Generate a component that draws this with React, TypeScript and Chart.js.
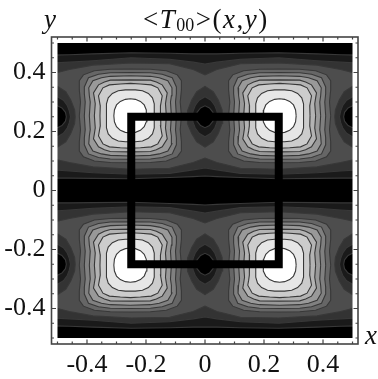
import React, { useEffect, useRef } from "react";
import { Chart, registerables } from "chart.js";

Chart.register(...registerables);

const majorTicks = [-0.4, -0.2, 0, 0.2, 0.4];
const minorTicks = [-0.5, -0.45, -0.35, -0.3, -0.25, -0.15, -0.1, -0.05, 0.05, 0.1, 0.15, 0.25, 0.3, 0.35, 0.45, 0.5];

const shades = ["#000000", "#1a1a1a", "#333333", "#4d4d4d", "#666666", "#808080", "#999999", "#b3b3b3", "#cccccc", "#e6e6e6", "#ffffff"];

// The darkest level covers the whole field.
const fieldX = [-0.52, 0.52, 0.52, -0.52, -0.52];
const fieldY = [0.52, 0.52, -0.52, -0.52, 0.52];

// Band edges for the upper half: x positions, then the outer and inner y of each band.
const bandX = [-0.52, -0.46, -0.38, -0.25, -0.12, -0.04, 0, 0.04, 0.12, 0.25, 0.38, 0.46, 0.52];
const band1Outer = [0.459, 0.46, 0.463, 0.467, 0.465, 0.463, 0.463, 0.463, 0.465, 0.467, 0.463, 0.46, 0.459];
const band1Inner = [0.042, 0.042, 0.041, 0.04, 0.044, 0.047, 0.049, 0.047, 0.044, 0.04, 0.041, 0.042, 0.042];
const band2Outer = [0.432, 0.435, 0.44, 0.45, 0.445, 0.435, 0.429, 0.435, 0.445, 0.45, 0.44, 0.435, 0.432];
const band2Inner = [0.07, 0.066, 0.06, 0.055, 0.058, 0.07, 0.076, 0.07, 0.058, 0.055, 0.06, 0.066, 0.07];
const band3Outer = [0.395, 0.41, 0.425, 0.432, 0.43, 0.41, 0.392, 0.41, 0.43, 0.432, 0.425, 0.41, 0.395];
const band3Inner = [0.108, 0.095, 0.08, 0.072, 0.075, 0.095, 0.11, 0.095, 0.075, 0.072, 0.08, 0.095, 0.108];

// Dark pockets between the lobes: one quadrant as offsets from the pocket centre.
const pocketCentresX = [-0.5, 0, 0.5];
const pocketCentresY = [0.25, -0.25];
const pocket2: number[][] = [[0.06, 0], [0.058, 0.023], [0.045, 0.057], [0.028, 0.085], [0, 0.103]];
const pocket1: number[][] = [[0.044, 0], [0.04, 0.02], [0.033, 0.038], [0.02, 0.056], [0, 0.068]];
const pocket0: number[][] = [[0.03, 0], [0.027, 0.015], [0.015, 0.03], [0, 0.037]];

// Bright lobes: one quadrant of each closed contour as offsets from the lobe centre.
const lobeCentresX = [-0.253, 0.253];
const lobeCentresY = [0.253, -0.253];
const lobe4: number[][] = [[0.173, 0], [0.169, 0.047], [0.173, 0.088], [0.173, 0.119], [0.159, 0.139], [0.122, 0.153], [0.068, 0.158], [0, 0.159]];
const lobe5: number[][] = [[0.156, 0], [0.153, 0.047], [0.156, 0.075], [0.156, 0.098], [0.142, 0.129], [0.108, 0.141], [0.068, 0.146], [0, 0.147]];
const lobe6: number[][] = [[0.139, 0], [0.136, 0.047], [0.139, 0.068], [0.141, 0.095], [0.127, 0.119], [0.098, 0.129], [0.068, 0.134], [0, 0.136]];
const lobe7: number[][] = [[0.122, 0], [0.119, 0.041], [0.122, 0.061], [0.125, 0.078], [0.108, 0.105], [0.088, 0.115], [0.068, 0.121], [0, 0.122]];
const lobe8: number[][] = [[0.103, 0], [0.102, 0.034], [0.105, 0.051], [0.108, 0.068], [0.093, 0.095], [0.071, 0.105], [0.034, 0.108], [0, 0.11]];
const lobe9: number[][] = [[0.081, 0], [0.081, 0.02], [0.081, 0.041], [0.075, 0.061], [0.061, 0.076], [0.041, 0.085], [0.017, 0.088], [0, 0.088]];
const lobe10: number[][] = [[0.056, 0], [0.054, 0.02], [0.047, 0.037], [0.034, 0.049], [0.017, 0.056], [0, 0.058]];

const squareX = [-0.25, 0.25, 0.25, -0.25, -0.25];
const squareY = [0.25, 0.25, -0.25, -0.25, 0.25];

type P = { x: number; y: number };

const closedShape = (q: number[][], cx: number, cy: number): P[] => {
  const a = q.map(([x, y]) => ({ x: cx + x, y: cy + y }));
  const b = [...q].reverse().map(([x, y]) => ({ x: cx - x, y: cy + y }));
  const c = q.map(([x, y]) => ({ x: cx - x, y: cy - y }));
  const d = [...q].reverse().map(([x, y]) => ({ x: cx + x, y: cy - y }));
  const all = [...a, ...b, ...c, ...d];
  return [...all, all[0]];
};

const bandShape = (outer: number[], inner: number[], sign: number): P[] => {
  const top = bandX.map((x, i) => ({ x, y: sign * outer[i] }));
  const bottom = bandX.map((x, i) => ({ x, y: sign * inner[i] })).reverse();
  const all = [...top, ...bottom];
  return [...all, all[0]];
};

const paintOrder = (): { data: P[]; shade: string }[] => {
  const out: { data: P[]; shade: string }[] = [];
  const add = (data: P[], shade: string) => out.push({ data, shade });
  add(fieldX.map((x, i) => ({ x, y: fieldY[i] })), shades[0]);
  [1, -1].forEach((s) => {
    add(bandShape(band1Outer, band1Inner, s), shades[1]);
    add(bandShape(band2Outer, band2Inner, s), shades[2]);
    add(bandShape(band3Outer, band3Inner, s), shades[3]);
  });
  ([[pocket2, 2], [pocket1, 1], [pocket0, 0]] as [number[][], number][]).forEach(([q, level]) => {
    pocketCentresX.forEach((cx) => pocketCentresY.forEach((cy) => add(closedShape(q, cx, cy), shades[level])));
  });
  ([[lobe4, 4], [lobe5, 5], [lobe6, 6], [lobe7, 7], [lobe8, 8], [lobe9, 9], [lobe10, 10]] as [number[][], number][]).forEach(([q, level]) => {
    lobeCentresX.forEach((cx) => lobeCentresY.forEach((cy) => add(closedShape(q, cx, cy), shades[level])));
  });
  return out;
};

const serif = '"Liberation Serif"';

const framePlugin = {
  id: "frame",
  afterDatasetsDraw(chart: any) {
    const { ctx, chartArea: a, scales } = chart;
    const x = scales.x;
    const y = scales.y;
    const il = x.getPixelForValue(-0.5);
    const ir = x.getPixelForValue(0.5);
    const it = y.getPixelForValue(0.5);
    const ib = y.getPixelForValue(-0.5);
    ctx.save();
    ctx.fillStyle = "#ffffff";
    ctx.fillRect(a.left, a.top, il - a.left, a.bottom - a.top);
    ctx.fillRect(ir, a.top, a.right - ir, a.bottom - a.top);
    ctx.fillRect(a.left, a.top, a.right - a.left, it - a.top);
    ctx.fillRect(a.left, ib, a.right - a.left, a.bottom - ib);
    ctx.strokeStyle = "#444444";
    ctx.lineWidth = 1.6;
    ctx.strokeRect(a.left, a.top, a.right - a.left, a.bottom - a.top);
    ctx.lineWidth = 1.2;
    const mark = (v: number, len: number) => {
      const px = x.getPixelForValue(v);
      const py = y.getPixelForValue(v);
      ctx.beginPath();
      ctx.moveTo(px, a.top);
      ctx.lineTo(px, a.top + len);
      ctx.moveTo(px, a.bottom);
      ctx.lineTo(px, a.bottom - len);
      ctx.moveTo(a.left, py);
      ctx.lineTo(a.left + len, py);
      ctx.moveTo(a.right, py);
      ctx.lineTo(a.right - len, py);
      ctx.stroke();
    };
    majorTicks.forEach((v) => mark(v, 4.5));
    minorTicks.forEach((v) => mark(v, 2.5));

    ctx.fillStyle = "#111111";
    ctx.textBaseline = "alphabetic";
    ctx.textAlign = "left";
    const parts: [string, string, number][] = [
      ["<", `27px ${serif}`, 28],
      ["T", `italic 27px ${serif}`, 28],
      ["00", `18px ${serif}`, 31],
      [">", `27px ${serif}`, 28],
      ["(", `27px ${serif}`, 28],
      ["x", `italic 27px ${serif}`, 28],
      [",", `27px ${serif}`, 28],
      ["y", `italic 27px ${serif}`, 28],
      [")", `27px ${serif}`, 28],
    ];
    let cursor = 143;
    parts.forEach(([t, f, base]) => {
      ctx.font = f;
      ctx.fillText(t, cursor, base);
      cursor += ctx.measureText(t).width + 1.5;
    });
    ctx.font = `italic 27px ${serif}`;
    ctx.fillText("y", 44, 28);
    ctx.fillText("x", 365, 344);
    ctx.restore();
  },
};

export default function App() {
  const ref = useRef<HTMLCanvasElement>(null);
  useEffect(() => {
    if (!ref.current) return;
    const shapes = paintOrder();
    const datasets: any[] = shapes.map((s, i) => ({
      data: s.data,
      showLine: true,
      pointRadius: 0,
      tension: 0,
      fill: "shape",
      backgroundColor: s.shade,
      borderColor: "#383838",
      borderWidth: 1.1,
      order: shapes.length + 2 - i,
    }));
    datasets.push({
      data: squareX.map((x, i) => ({ x, y: squareY[i] })),
      showLine: true,
      pointRadius: 0,
      tension: 0,
      fill: false,
      borderColor: "#000000",
      borderWidth: 8,
      borderJoinStyle: "miter",
      borderCapStyle: "square",
      order: 0,
    });
    const chart = new Chart(ref.current, {
      type: "scatter",
      data: { datasets },
      plugins: [framePlugin],
      options: {
        animation: false,
        responsive: false,
        layout: { padding: { top: 37, right: 20, left: 0, bottom: 0 } },
        plugins: { legend: { display: false }, tooltip: { enabled: false } },
        scales: {
          x: {
            type: "linear",
            min: -0.5203,
            max: 0.5186,
            grid: { display: false, drawTicks: false },
            border: { display: false },
            afterFit: (s: any) => { s.height = 35; },
            afterBuildTicks: (s: any) => { s.ticks = majorTicks.map((value) => ({ value })); },
            ticks: {
              autoSkip: false,
              maxRotation: 0,
              padding: 6,
              color: "#111111",
              font: { family: "Liberation Serif", size: 26 },
              callback: (v: any) => String(v),
            },
          },
          y: {
            type: "linear",
            min: -0.5203,
            max: 0.5203,
            grid: { display: false, drawTicks: false },
            border: { display: false },
            afterFit: (s: any) => { s.width = 51.5; },
            afterBuildTicks: (s: any) => { s.ticks = majorTicks.map((value) => ({ value })); },
            ticks: {
              autoSkip: false,
              padding: 6,
              color: "#111111",
              font: { family: "Liberation Serif", size: 26 },
              callback: (v: any) => String(v),
            },
          },
        },
      },
    } as any);
    return () => chart.destroy();
  }, []);
  return (
    <div style={{ position: "absolute", left: 0, top: 0, width: 378, height: 379, background: "#fff" }}>
      <canvas ref={ref} width={378} height={379} style={{ display: "block", filter: "blur(0.55px)" }} />
    </div>
  );
}
